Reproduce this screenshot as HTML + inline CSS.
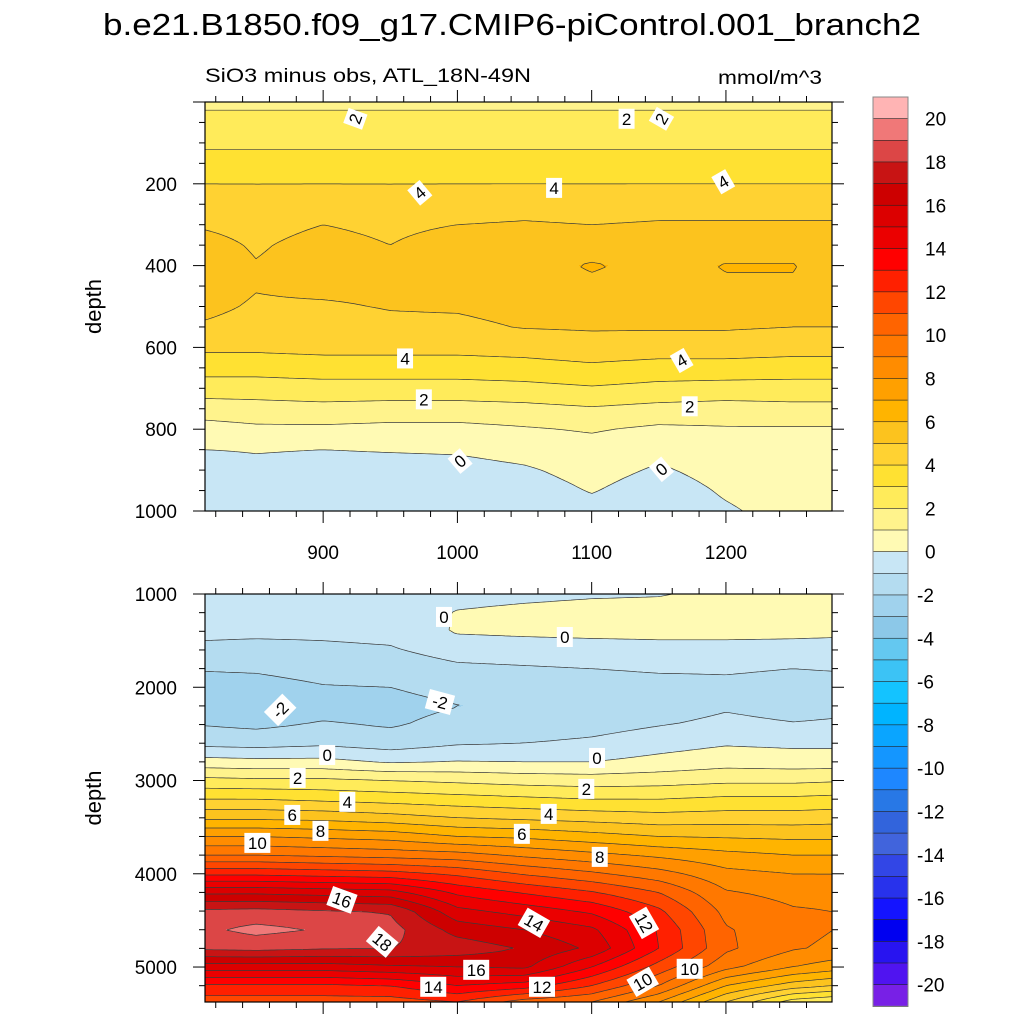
<!DOCTYPE html>
<html><head><meta charset="utf-8">
<style>
html,body{margin:0;padding:0;background:#fff;}
svg{display:block;font-family:"Liberation Sans",Arial,sans-serif;}
</style></head>
<body>
<svg id="chart" width="1024" height="1024" viewBox="0 0 1024 1024" xmlns="http://www.w3.org/2000/svg">
<rect width="1024" height="1024" fill="#fff"/>
<text x="512" y="35" font-size="31" text-anchor="middle" textLength="818" lengthAdjust="spacingAndGlyphs">b.e21.B1850.f09_g17.CMIP6-piControl.001_branch2</text>
<text x="205" y="82" font-size="19" textLength="326" lengthAdjust="spacingAndGlyphs">SiO3 minus obs, ATL_18N-49N</text>
<text x="822" y="84" font-size="19" text-anchor="end" textLength="104" lengthAdjust="spacingAndGlyphs">mmol/m^3</text>
<g id="top-panel"></g>
<g id="bottom-panel"></g>
<g id="colorbar"></g>
</svg>
<script>
// ---------- data ----------
const xCols = [812, 850, 900, 950, 1000, 1050, 1100, 1150, 1200, 1250, 1280];
const topDepths = [0,50,100,150,200,250,300,350,400,450,500,550,600,650,700,750,800,850,900,950,1000];
const topCol812  = [1.8,2.3,2.8,3.4,4.0,4.5,4.9,5.3,5.5,5.4,5.2,4.9,4.2,3.4,2.5,1.5,0.6,0.0,-0.4,-0.5,-0.6];
const topCol850  = [1.8,2.3,2.8,3.4,4.0,4.4,4.7,4.9,5.05,5.05,4.9,4.7,4.2,3.4,2.5,1.6,0.8,0.05,-0.2,-0.4,-0.5];
const topCol900  = [1.8,2.3,2.8,3.4,4.0,4.5,5.0,5.3,5.4,5.2,4.9,4.6,4.3,3.5,2.6,1.7,0.8,0.0,-0.3,-0.5,-0.6];
const topCol950  = [1.8,2.3,2.8,3.4,4.0,4.4,4.8,5.0,5.3,5.2,5.05,4.8,4.3,3.5,2.6,1.6,0.7,0.05,-0.3,-0.5,-0.6];
const topCol1000 = [1.8,2.3,2.8,3.4,4.0,4.5,5.0,5.4,5.6,5.3,5.1,4.8,4.3,3.5,2.6,1.6,0.7,0.1,-0.3,-0.5,-0.6];
const topCol1050 = [1.8,2.3,2.8,3.4,4.0,4.6,5.1,5.5,5.6,5.5,5.3,5.05,4.4,3.6,2.7,1.7,0.9,0.3,-0.1,-0.4,-0.5];
const topCol1100 = [1.8,2.3,2.8,3.4,4.0,4.5,5.0,5.5,6.1,5.8,5.4,5.1,4.6,3.8,2.9,1.9,1.1,0.6,0.3,0.05,-0.3];
const topCol1150 = [1.8,2.3,2.8,3.4,4.0,4.6,5.1,5.5,5.7,5.6,5.4,5.1,4.5,3.6,2.7,1.7,0.8,0.2,-0.1,-0.4,-0.5];
const topCol1200 = [1.8,2.3,2.8,3.4,4.0,4.6,5.1,5.6,6.05,5.9,5.4,5.1,4.5,3.6,2.6,1.6,0.9,0.5,0.3,0.1,-0.1];
const topCol1250 = [1.8,2.3,2.8,3.4,4.0,4.6,5.1,5.6,6.05,5.9,5.4,5.0,4.4,3.5,2.6,1.7,0.9,0.6,0.5,0.4,0.3];
const topCol1280 = [1.8,2.3,2.8,3.4,4.0,4.6,5.1,5.4,5.6,5.5,5.3,5.0,4.4,3.5,2.6,1.7,0.9,0.6,0.5,0.4,0.3];

const botDepths = [1000,1200,1400,1600,1800,2000,2200,2400,2600,2800,3000,3200,3400,3600,3800,4000,4200,4400,4600,4800,5000,5200,5375];
const botCol812  = [-0.5,-0.6,-0.8,-1.2,-1.95,-2.3,-2.5,-2.05,-1.3,0.4,2.3,4.0,5.8,8.0,10.0,12.8,15.8,18.2,18.8,18.2,15.5,12.8,11.5];
const botCol850  = [-0.5,-0.6,-0.8,-1.3,-1.9,-2.3,-2.5,-2.2,-1.4,0.3,2.2,4.0,5.8,8.0,10.0,12.8,15.8,18.3,19.3,18.3,15.5,12.8,11.5];
const botCol900  = [-0.5,-0.6,-0.8,-1.2,-1.7,-2.05,-2.4,-1.9,-1.2,0.3,2.2,3.8,5.7,7.8,9.8,12.6,15.6,18.1,18.9,18.1,15.5,12.8,11.5];
const botCol950  = [-0.4,-0.5,-0.7,-1.1,-1.6,-2.0,-2.3,-2.1,-1.5,-0.1,2.0,3.6,5.4,7.6,9.6,12.4,15.4,17.9,18.4,18.0,15.8,13.0,11.5];
const botCol1000 = [-0.3,0.05,0.1,-0.6,-1.2,-1.7,-2.02,-1.7,-1.1,0.05,1.8,3.4,5.0,7.0,9.4,11.8,13.8,15.3,16.6,17.6,16.0,14.0,12.0];
const botCol1050 = [-0.2,0.2,0.2,-0.5,-1.1,-1.6,-1.85,-1.6,-1.0,0.0,1.6,3.2,4.8,6.8,8.8,10.9,12.9,14.6,16.0,16.9,16.2,13.5,10.5];
const botCol1100 = [-0.1,0.3,0.25,-0.4,-1.0,-1.4,-1.6,-1.4,-0.8,0.0,1.5,3.0,4.6,6.4,8.3,10.2,12.1,13.8,15.2,15.8,14.0,12.0,10.0];
const botCol1150 = [-0.05,0.3,0.25,-0.3,-0.9,-1.3,-1.4,-1.05,-0.4,0.3,1.6,3.0,4.4,6.0,7.8,9.4,11.0,12.2,12.9,13.0,11.6,10.0,8.0];
const botCol1200 = [0.2,0.3,0.25,-0.3,-0.9,-1.2,-1.1,-0.8,-0.1,0.6,1.8,3.2,4.5,5.9,7.3,8.3,9.1,9.7,10.1,10.2,9.3,7.0,5.0];
const botCol1250 = [0.3,0.3,0.2,-0.3,-1.0,-1.3,-1.3,-0.95,-0.2,0.5,1.8,3.2,4.5,5.8,7.0,8.0,8.7,9.1,9.3,9.1,8.0,5.5,2.5];
const botCol1280 = [0.3,0.3,0.15,-0.3,-0.95,-1.3,-1.2,-0.9,-0.2,0.5,1.9,3.3,4.6,5.8,7.0,8.0,8.6,9.0,9.0,8.8,7.5,5.0,2.0];

const topColumns = [topCol812,topCol850,topCol900,topCol950,topCol1000,topCol1050,topCol1100,topCol1150,topCol1200,topCol1250,topCol1280];
const botColumns = [botCol812,botCol850,botCol900,botCol950,botCol1000,botCol1050,botCol1100,botCol1150,botCol1200,botCol1250,botCol1280];

const levelColors = ["#7820e6","#5014f0","#2814f0","#0000f0","#1414ff","#2832ec","#3246e6","#4164dc","#3264dc","#2878e6","#1e87ff","#1496ff","#0aa5ff","#00b4ff","#14c3ff","#3cc3f5","#64c8f0","#8cc8e8","#a0d2ed","#b4dcf0","#c8e6f5","#fffab4","#fff38c","#ffeb5a","#ffe132","#ffd232","#fcc31e","#ffb400","#ffa000","#ff8c00","#ff7800","#ff6400","#ff4600","#ff2000","#ff0000","#eb0000","#dc0000","#cd0000","#c81414","#dc4646","#f07878","#ffb4b4"];
const colorbarLabels = [20,18,16,14,12,10,8,6,4,2,0,-2,-4,-6,-8,-10,-12,-14,-16,-18,-20];
const topXTicks = [900,1000,1100,1200];
const topYTicks = [200,400,600,800,1000];
const botYTicks = [1000,2000,3000,4000,5000];

const topLabels = [["2",924,41,-70],["2",1126,41,0],["2",1152,41,-60],["4",972,222,-40],["4",1072,210,0],["4",1198,195,-30],["4",961,627,0],["4",1167,632,-30],["2",975,727,0],["2",1173,744,0],["0",1002,878,-40],["0",1152,898,-40]];
const botLabels = [["0",990,1246,0],["0",1080,1461,0],["-2",868,2243,-45],["-2",987,2158,15],["0",903,2726,0],["0",1104,2758,0],["2",881,2972,0],["2",1096,3090,0],["4",918,3229,0],["4",1068,3358,0],["6",877,3369,0],["6",1048,3572,0],["8",898,3540,0],["8",1106,3819,0],["10",851,3669,0],["16",914,4280,20],["14",1057,4526,30],["12",1139,4526,60],["18",944,4730,40],["16",1014,5030,0],["14",982,5212,0],["12",1063,5212,0],["10",1138,5159,-30],["10",1173,5019,0]];

// ---------- rendering ----------
const NS = "http://www.w3.org/2000/svg";
function mk(tag, attrs, parent){ const e=document.createElementNS(NS,tag); for(const k in attrs) e.setAttribute(k,attrs[k]); if(parent) parent.appendChild(e); return e; }
function colorIndex(v){ let k=Math.floor(v)+21; if(k<0)k=0; if(k>41)k=41; return k; }
function locate(arr,v){ let i=0; while(i<arr.length-2 && v>arr[i+1]) i++; let t=(v-arr[i])/(arr[i+1]-arr[i]); t=Math.max(0,Math.min(1,t)); return [i,t]; }

function drawPanel(g, cfg){
  const {L,T,W,H,x0,x1,d0,d1,depths,cols} = cfg;
  const xScale = x => L + (x-x0)/(x1-x0)*W;
  const yScale = d => T + (d-d0)/(d1-d0)*H;
  const xInv = px => x0 + (px-L)/W*(x1-x0);
  const dInv = py => d0 + (py-T)/H*(d1-d0);
  function val(x,d){
    const [i,tx]=locate(xCols,x), [j,ty]=locate(depths,d);
    const a=cols[i][j], b=cols[i+1][j], c=cols[i][j+1], e=cols[i+1][j+1];
    return (a*(1-tx)+b*tx)*(1-ty)+(c*(1-tx)+e*tx)*ty;
  }
  const fill = mk("g",{},g);
  
  
  for(let py=0; py<H; py++){
    const d=dInv(T+py+0.5);
    let start=0, cur=colorIndex(val(xInv(L+0.5),d));
    for(let px=1; px<=W; px++){
      const k = px<W ? colorIndex(val(xInv(L+px+0.5),d)) : -1;
      if(k!==cur){
        const r=mk("rect",{x:L+start,y:T+py,width:px-start,height:1.02,fill:levelColors[cur],"shape-rendering":"crispEdges"},fill);
        
        
        start=px; cur=k;
      }
    }
  }
  const step=3, nx=Math.ceil(W/step)+1, ny=Math.ceil(H/step)+1;
  const V=[];
  for(let j=0;j<ny;j++){ const row=[]; const py=Math.min(T+j*step,T+H); for(let i=0;i<nx;i++){ const px=Math.min(L+i*step,L+W); row.push(val(xInv(px),dInv(py))); } V.push(row); }
  const gp=(i,j)=>[Math.min(L+i*step,L+W), Math.min(T+j*step,T+H)];
  let path="";
  for(let lev=-20; lev<=20; lev++){
    for(let j=0;j<ny-1;j++) for(let i=0;i<nx-1;i++){
      const c=[[i,j],[i+1,j],[i+1,j+1],[i,j+1]];
      const v=c.map(p=>V[p[1]][p[0]]);
      const pts=[];
      for(let e=0;e<4;e++){
        const a=v[e], b=v[(e+1)%4];
        if((a<lev)!==(b<lev)){
          const t=(lev-a)/(b-a); const pa=gp(...c[e]), pb=gp(...c[(e+1)%4]);
          pts.push([pa[0]+(pb[0]-pa[0])*t, pa[1]+(pb[1]-pa[1])*t]);
        }
      }
      for(let s=0;s+1<pts.length;s+=2) path+=`M${pts[s][0].toFixed(1)} ${pts[s][1].toFixed(1)}L${pts[s+1][0].toFixed(1)} ${pts[s+1][1].toFixed(1)}`;
    }
  }
  const cl=mk("path",{d:path,fill:"none",stroke:"#3a3a3a","stroke-width":0.7},g);
  
  
  const fr=mk("rect",{x:L,y:T,width:W,height:H,fill:"none",stroke:"#000","stroke-width":1.2},g);
  
  
  const ax=mk("g",{stroke:"#000","stroke-width":1},g);
  
  
  for(let x=820;x<=x1;x+=20){
    const px=xScale(x); const len=(x%100===0)?12:6;
    mk("line",{x1:px,y1:T+H,x2:px,y2:T+H+len},ax);
    mk("line",{x1:px,y1:T,x2:px,y2:T-len},ax);
  }
  for(let d=cfg.minorStart; d<=d1; d+=cfg.minorStep){
    const py=yScale(d); if(py<T-0.5||py>T+H+0.5) continue;
    const len=(d%cfg.majorStep===0)?12:6;
    mk("line",{x1:L,y1:py,x2:L-len,y2:py},ax);
    mk("line",{x1:L+W,y1:py,x2:L+W+len,y2:py},ax);
  }
  cfg.yTicks.forEach(d=>{
    const t=mk("text",{x:L-28,y:yScale(d)+7,"font-size":19,"text-anchor":"end"},g);
    t.textContent=d;
    
    
  });
  if(cfg.xTicks) cfg.xTicks.forEach(x=>{
    const t=mk("text",{x:xScale(x),y:T+H+48,"font-size":19,"text-anchor":"middle"},g);
    t.textContent=x;
    
    
  });
  const yt=mk("text",{x:0,y:0,"font-size":22,"text-anchor":"middle",transform:`translate(101,${T+H/2}) rotate(-90)`},g);
  yt.textContent="depth";
  
  
  cfg.labels.forEach(([s,x,d,rot])=>{
    const lg=mk("g",{transform:`translate(${xScale(x)},${yScale(d)}) rotate(${rot})`},g);
    
    
    const w=s.length*10+6;
    mk("rect",{x:-w/2,y:-10,width:w,height:20,fill:"#fff"},lg);
    const t=mk("text",{x:0,y:6,"font-size":17,"text-anchor":"middle"},lg);
    t.textContent=s;
  });
}

drawPanel(document.getElementById("top-panel"),{L:205,T:102,W:627,H:409,x0:812,x1:1279,d0:0,d1:1000,depths:topDepths,cols:topColumns,yTicks:topYTicks,xTicks:topXTicks,minorStart:0,minorStep:50,majorStep:200,labels:topLabels});
drawPanel(document.getElementById("bottom-panel"),{L:205,T:594,W:627,H:408,x0:812,x1:1279,d0:1000,d1:5375,depths:botDepths,cols:botColumns,yTicks:botYTicks,xTicks:null,minorStart:1000,minorStep:200,majorStep:1000,labels:botLabels});

(function(){
  const g=document.getElementById("colorbar");
  const L=873, W=35, top=97, bh=21.65;
  for(let k=41;k>=0;k--){
    const y=top+(41-k)*bh;
    const r=mk("rect",{x:L,y:y,width:W,height:bh+0.3,fill:levelColors[k],stroke:"#222","stroke-width":0.6},g);
    
    
  }
  mk("rect",{x:L,y:top,width:W,height:42*bh,fill:"none",stroke:"#888","stroke-width":1},g);
  colorbarLabels.forEach(v=>{
    const y=top+(20-v+1)*bh;
    const t=mk("text",{x:v<0?917:925,y:y+7,"font-size":19},g);
    t.textContent=v;
    
    
  });
})();
</script>
</body></html>
